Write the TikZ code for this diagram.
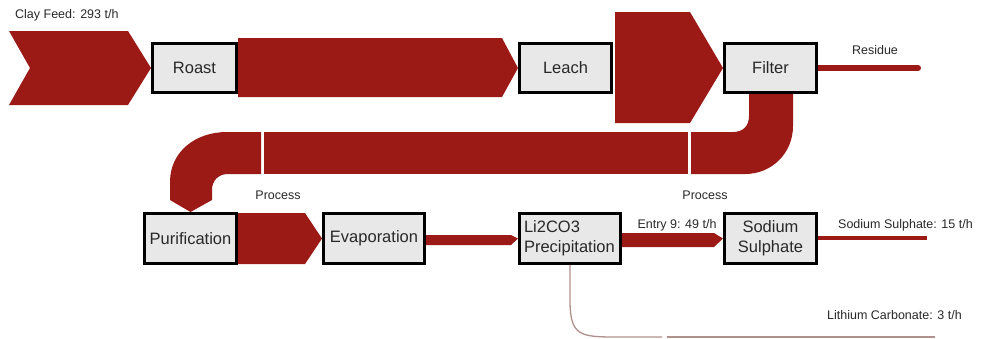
\documentclass[tikz,border=0pt]{standalone}
\usepackage{fontspec}
\setmainfont{Liberation Sans}
\usetikzlibrary{backgrounds}
\definecolor{flow}{RGB}{156,26,22}
\definecolor{boxfill}{RGB}{232,232,232}
\definecolor{txt}{RGB}{40,40,40}
\definecolor{thinline}{RGB}{175,145,140}
\begin{document}
\begin{tikzpicture}[x=1pt,y=-1pt,
  proc/.style={draw=black, line width=3pt, fill=boxfill, text=txt,
    font=\fontsize{16.5}{20}\selectfont, inner sep=0pt},
  lbl/.style={text=txt, font=\fontsize{12.5}{14}\selectfont, inner sep=0pt},
  band/.style={fill=flow, draw=none}]
\useasboundingbox (0,0) rectangle (983,338);

% process boxes
\node[proc, minimum width=84pt, minimum height=49pt] (roast) at (194.5,68) {Roast};
\node[proc, minimum width=92pt, minimum height=49pt] (leach) at (565.5,68) {Leach};
\node[proc, minimum width=92pt, minimum height=49pt] (filter) at (770.5,68) {Filter};
\node[proc, minimum width=92pt, minimum height=50pt] (purif) at (190.5,238.5) {Purification};
\node[proc, minimum width=101pt, minimum height=50pt] (evap) at (374,238.5) {Evaporation};
\node[proc, minimum width=101pt, minimum height=50pt, text width=92pt, inner xsep=4.5pt, align=left] (li) at (570,238.5) {Li2CO3\\Precipitation};
\node[proc, minimum width=92pt, minimum height=50pt, align=center] (sodium) at (770.5,238.5) {Sodium\\Sulphate};

% free ends
\coordinate (feed) at (9,68);
\coordinate (resend) at (918,68);
\coordinate (naend) at (927,238);
\coordinate (liend) at (935,337);

% labels
\node[lbl, anchor=west] (lfeed) at (15,15) {Clay Feed: 293 t/h};
\node[lbl] (lres) at (875,50) {Residue};
\node[lbl] (lproc1) at (278,195) {Process};
\node[lbl] (lproc2) at (705,195) {Process};
\node[lbl] (lentry) at (677,225) {Entry 9: 49 t/h};
\node[lbl, anchor=west] (lna) at (838,225) {Sodium Sulphate: 15 t/h};
\node[lbl, anchor=west] (lli) at (827,315) {Lithium Carbonate: 3 t/h};

\begin{pgfonlayer}{background}
% clay feed
\fill[band] (feed |- 0,31) -- (128,31) -- (roast.west) -- (128,105) -- (feed |- 0,105) -- (30,68) -- cycle;
% roast -> leach
\fill[band] (roast.east |- 0,38) -- (502,38) -- (leach.west) -- (502,97) -- (roast.east |- 0,97) -- cycle;
% leach -> filter
\fill[band] (615,12) -- (690,12) -- (filter.west) -- (690,123) -- (615,123) -- cycle;
% filter -> process (right bend)
\fill[band] (749,80) -- (749,116) .. controls (749,126) and (743,132) .. (733,132)
  -- (691,132) -- (691,174) -- (745,174) .. controls (772,174) and (793,153) .. (793,126)
  -- (793,80) -- cycle;
% process (middle)
\fill[band] (264,132) rectangle (688,174);
% process -> purification (left bend)
\fill[band] (261,132) -- (227,132) .. controls (195,132) and (170,152) .. (170,182)
  -- (170,200) -- (purif.north) -- (212,200) -- (212,190)
  .. controls (212,180) and (219,174) .. (228,174) -- (261,174) -- cycle;
% purification -> evaporation
\fill[band] (purif.east |- 0,213) -- (305,213) -- (evap.west) -- (305,264) -- (purif.east |- 0,264) -- cycle;
% evaporation -> Li2CO3
\fill[band] (evap.east |- 0,235) -- (511,235) -- (li.west) -- (511,245) -- (evap.east |- 0,245) -- cycle;
% Li2CO3 -> sodium sulphate
\fill[band] (li.east |- 0,233) -- (714,233) -- (sodium.west) -- (714,247) -- (li.east |- 0,247) -- cycle;
% outputs
\draw[flow, line width=6pt, line cap=round] (filter.center) -- (resend);
\draw[flow, line width=4pt] (sodium.center |- naend) -- (naend);
\draw[thinline, line width=1.3pt] (li.south) -- (570,300) .. controls (570,336) and (580,337) .. (617,337) -- (662,337);
\draw[thinline, line width=1.3pt] (667,337) -- (liend);
\end{pgfonlayer}
\end{tikzpicture}
\end{document}
